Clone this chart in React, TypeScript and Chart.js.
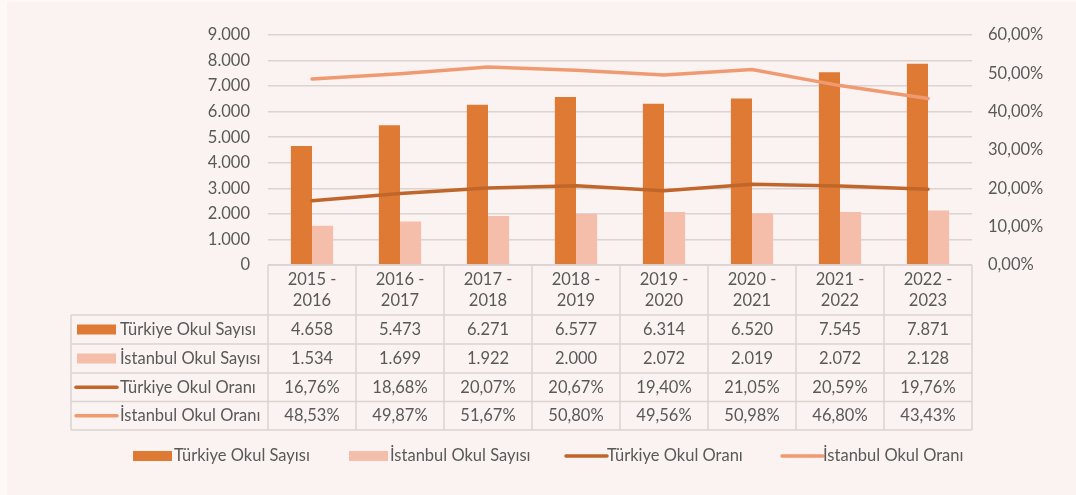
import React, { useEffect, useRef } from "react";
import { Chart, registerables } from "chart.js";
Chart.register(...registerables);

const categories = ["2015 - 2016", "2016 - 2017", "2017 - 2018", "2018 - 2019", "2019 - 2020", "2020 - 2021", "2021 - 2022", "2022 - 2023"];
const turkiyeSayi = [4658, 5473, 6271, 6577, 6314, 6520, 7545, 7871];
const istanbulSayi = [1534, 1699, 1922, 2000, 2072, 2019, 2072, 2128];
const turkiyeOran = [16.76, 18.68, 20.07, 20.67, 19.4, 21.05, 20.59, 19.76];
const istanbulOran = [48.53, 49.87, 51.67, 50.8, 49.56, 50.98, 46.8, 43.43];
const seriesNames = ["Türkiye Okul Sayısı", "İstanbul Okul Sayısı", "Türkiye Okul Oranı", "İstanbul Okul Oranı"];

const C_TB = "#DF7A35";
const C_IB = "#F4BEAA";
const C_TL = "#C0662B";
const C_IL = "#F09A72";
const TEXT = "#595959";
const GRID = "#DAD3D0";
const FONT = "Lato, 'Open Sans', sans-serif";
const FS = 16.5;

const fmtInt = (v: number) => String(Math.round(v)).replace(/\B(?=(\d{3})+(?!\d))/g, ".");
const fmtPct = (v: number) => v.toFixed(2).replace(".", ",") + "%";

const tablePlugin = {
  id: "tablePlugin",
  afterDraw(chart: any) {
    const ctx = chart.ctx as CanvasRenderingContext2D;
    const x = chart.scales.x;
    const area = chart.chartArea;
    const n = categories.length;
    const colW = (area.right - area.left) / n;
    const top = area.bottom;
    const rowYs = [top, 315, 344, 373, 401.5, 430];
    const labelLeft = 71;
    ctx.save();
    ctx.strokeStyle = GRID;
    ctx.lineWidth = 1.5;
    ctx.beginPath();
    ctx.moveTo(area.left, rowYs[0]);
    ctx.lineTo(area.right, rowYs[0]);
    for (let r = 1; r < rowYs.length; r++) {
      ctx.moveTo(labelLeft, rowYs[r]);
      ctx.lineTo(area.right, rowYs[r]);
    }
    for (let i = 0; i <= n; i++) {
      const xx = area.left + i * colW;
      ctx.moveTo(xx, rowYs[0]);
      ctx.lineTo(xx, rowYs[5]);
    }
    ctx.moveTo(labelLeft, rowYs[1]);
    ctx.lineTo(labelLeft, rowYs[5]);
    ctx.stroke();

    ctx.fillStyle = TEXT;
    ctx.font = `${FS}px ${FONT}`;
    ctx.textAlign = "center";
    ctx.textBaseline = "middle";
    categories.forEach((c, i) => {
      const cx = x.getPixelForValue(i);
      const parts = c.split(" - ");
      ctx.fillText(parts[0] + " -", cx, 280);
      ctx.fillText(parts[1], cx, 301);
    });
    const rows = [
      turkiyeSayi.map(fmtInt),
      istanbulSayi.map(fmtInt),
      turkiyeOran.map(fmtPct),
      istanbulOran.map(fmtPct),
    ];
    rows.forEach((vals, r) => {
      const cy = (rowYs[r + 1] + rowYs[r + 2]) / 2;
      vals.forEach((v, i) => {
        ctx.fillText(v, x.getPixelForValue(i), cy);
      });
    });
    const drawKey = (k: number, kx: number, cy: number) => {
      if (k < 2) {
        ctx.fillStyle = k === 0 ? C_TB : C_IB;
        ctx.fillRect(kx, cy - 5, 39, 10);
      } else {
        ctx.strokeStyle = k === 2 ? C_TL : C_IL;
        ctx.lineWidth = 3.5;
        ctx.lineCap = "round";
        ctx.beginPath();
        ctx.moveTo(kx, cy);
        ctx.lineTo(kx + 41, cy);
        ctx.stroke();
      }
    };
    ctx.textAlign = "left";
    seriesNames.forEach((name, r) => {
      const cy = (rowYs[r + 1] + rowYs[r + 2]) / 2;
      drawKey(r, r < 2 ? 77 : 76, cy);
      ctx.fillStyle = TEXT;
      ctx.fillText(name, 120, cy);
    });
    const legX = [133, 349, 566, 782];
    const ly = 456;
    seriesNames.forEach((name, r) => {
      drawKey(r, legX[r], ly);
      ctx.fillStyle = TEXT;
      ctx.fillText(name, legX[r] + 41, ly);
    });
    ctx.restore();
  },
};

const bgPlugin = {
  id: "bgPlugin",
  beforeDraw(chart: any) {
    const ctx = chart.ctx as CanvasRenderingContext2D;
    ctx.save();
    ctx.fillStyle = "#FEF8F7";
    ctx.fillRect(0, 0, chart.width, chart.height);
    ctx.fillStyle = "#FBF3F1";
    ctx.fillRect(7, 2, chart.width - 7, chart.height - 2);
    ctx.restore();
  },
};

export default function App() {
  const ref = useRef<HTMLCanvasElement>(null);
  useEffect(() => {
    document.body.style.margin = "0";
    const chart = new Chart(ref.current!, {
      type: "bar",
      data: {
        labels: categories,
        datasets: [
          { type: "line", label: seriesNames[2], data: turkiyeOran, yAxisID: "y1", borderColor: C_TL, backgroundColor: C_TL, borderWidth: 3.5, pointRadius: 0, borderCapStyle: "round", order: 0 } as any,
          { type: "line", label: seriesNames[3], data: istanbulOran, yAxisID: "y1", borderColor: C_IL, backgroundColor: C_IL, borderWidth: 3.5, pointRadius: 0, borderCapStyle: "round", order: 0 } as any,
          { type: "bar", label: seriesNames[0], data: turkiyeSayi, yAxisID: "y", backgroundColor: C_TB, categoryPercentage: 0.48, barPercentage: 1, order: 1 },
          { type: "bar", label: seriesNames[1], data: istanbulSayi, yAxisID: "y", backgroundColor: C_IB, categoryPercentage: 0.48, barPercentage: 1, order: 1 },
        ],
      },
      options: {
        animation: false,
        responsive: false,
        layout: { padding: { top: 35, bottom: 230, left: 0, right: 0 } },
        plugins: { legend: { display: false }, tooltip: { enabled: false } },
        scales: {
          x: { display: false },
          y: {
            position: "left",
            min: 0,
            max: 9000,
            ticks: { stepSize: 1000, color: TEXT, font: { family: FONT, size: FS }, padding: 18, callback: (v: any) => fmtInt(Number(v)) },
            grid: { color: GRID, lineWidth: 1.5, drawTicks: false },
            border: { display: false },
            afterFit: (s: any) => { s.width = 268; },
          },
          y1: {
            position: "right",
            min: 0,
            max: 60,
            ticks: { stepSize: 10, color: TEXT, font: { family: FONT, size: FS }, padding: 16, callback: (v: any) => fmtPct(Number(v)) },
            grid: { display: false, drawTicks: false },
            border: { display: false },
            afterFit: (s: any) => { s.width = 104; },
          },
        },
      },
      plugins: [bgPlugin, tablePlugin],
    });
    return () => chart.destroy();
  }, []);
  return (
    <div style={{ width: 1076, height: 495 }}>
      <canvas ref={ref} width={1076} height={495} style={{ display: "block" }} />
    </div>
  );
}
